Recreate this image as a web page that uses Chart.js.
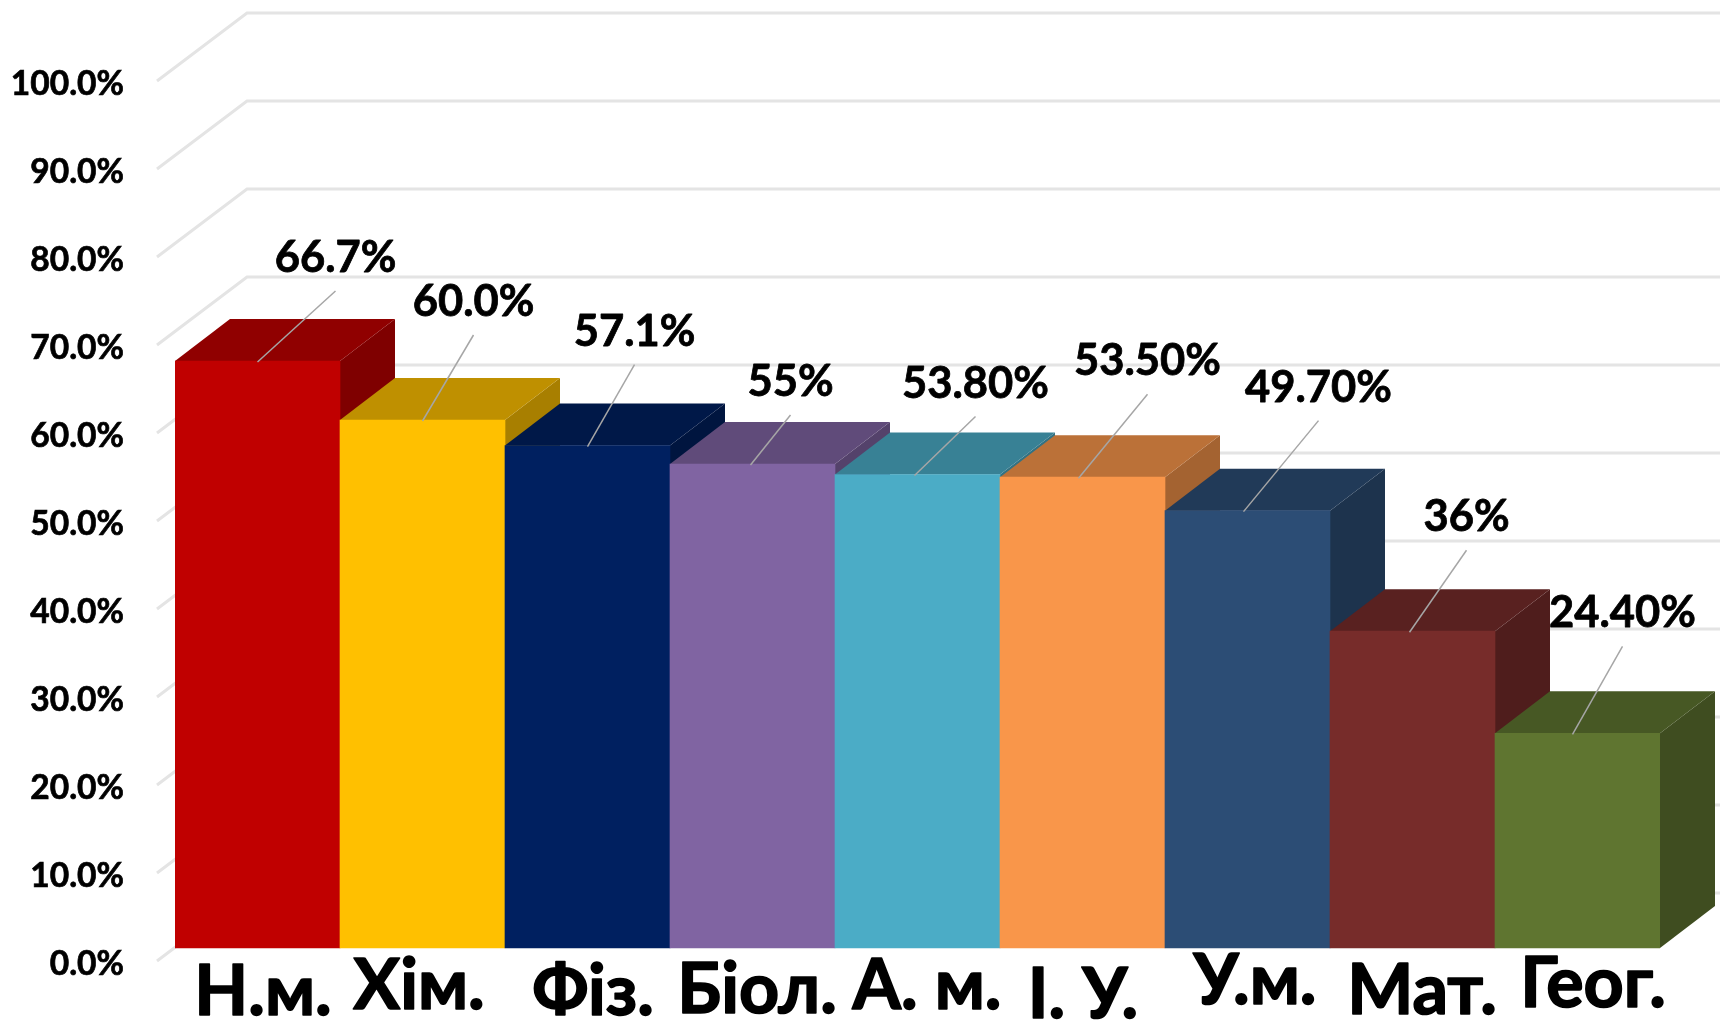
<!DOCTYPE html>
<html>
<head>
<meta charset="utf-8">
<style>
  html, body { margin: 0; padding: 0; background: #fff; }
  canvas { display: block; }
</style>
<script src="https://cdn.jsdelivr.net/npm/chart.js@4"></script>
</head>
<body>
<canvas id="grafico" width="1720" height="1021"></canvas>
<script>
const categories = ['Н.м.', 'Хім.', 'Фіз.', 'Біол.', 'А. м.', 'І. У.', 'У.м.', 'Мат.', 'Геог.'];
const values = [66.7, 60.0, 57.1, 55, 53.8, 53.5, 49.7, 36, 24.4];
const valueLabels = ['66.7%', '60.0%', '57.1%', '55%', '53.80%', '53.50%', '49.70%', '36%', '24.40%'];
const barColors = ['#C00000', '#FFC000', '#002060', '#8064A2', '#4BACC6', '#F9964A', '#2C4D75', '#772C2A', '#5F7530'];

// hand placed text in the original, offsets from the bar
const catNudge = [5.5, -3.5, 5.5, 4.5, 9.5, 0.5, 7.5, 9.5, 15.5];
const catBaseline = [1015, 1009, 1015, 1013, 1009, 1018, 1004, 1014, 1007];
const labelDx = [78, 51, 47, 38, 58, 65, 71, 54, 45];
const labelDy = [103, 118, 114, 82, 91, 116, 123, 114, 120];
const leaderFoot = [0, 0, 0, -2, -3, -4, -4, -3, -5];

const fonte = 'Lato, Carlito, "Noto Sans", sans-serif';
const barDepth = { x: 55, y: 42 };
const gridDepth = { x: 90, y: 68 };

function escurecer(hex, f) {
  const n = parseInt(hex.slice(1), 16);
  const r = Math.round((n >> 16 & 255) * f);
  const g = Math.round((n >> 8 & 255) * f);
  const b = Math.round((n & 255) * f);
  return `rgb(${r},${g},${b})`;
}

function poly(ctx, pts, cor) {
  ctx.fillStyle = cor;
  ctx.beginPath();
  pts.forEach((p, i) => i ? ctx.lineTo(p[0], p[1]) : ctx.moveTo(p[0], p[1]));
  ctx.closePath();
  ctx.fill();
}

function textoGrosso(ctx, txt, x, y, grossura) {
  ctx.lineWidth = grossura;
  ctx.strokeStyle = '#000';
  ctx.lineJoin = 'round';
  ctx.strokeText(txt, x, y);
  ctx.fillText(txt, x, y);
}

const grade3d = {
  id: 'grade3d',
  beforeDatasetsDraw(chart) {
    const { ctx, scales } = chart;
    const y = scales.y;
    const x0 = y.right - 18;
    ctx.save();
    ctx.lineWidth = 3;
    ctx.strokeStyle = '#E4E4E4';
    y.ticks.forEach(t => {
      const py = y.getPixelForValue(t.value);
      ctx.beginPath();
      ctx.moveTo(x0, py);
      ctx.lineTo(x0 + gridDepth.x, py - gridDepth.y);
      ctx.lineTo(chart.width, py - gridDepth.y);
      ctx.stroke();
    });
    ctx.restore();

    // side and top faces, the front comes from the bar itself
    const meta = chart.getDatasetMeta(0);
    ctx.save();
    meta.data.forEach((bar, i) => {
      const l = bar.x - bar.width / 2;
      const r = bar.x + bar.width / 2;
      const d = barDepth;
      poly(ctx, [[r, bar.y], [r + d.x, bar.y - d.y], [r + d.x, bar.base - d.y], [r, bar.base]], escurecer(barColors[i], 0.66));
      poly(ctx, [[l, bar.y], [l + d.x, bar.y - d.y], [r + d.x, bar.y - d.y], [r, bar.y]], escurecer(barColors[i], 0.75));
    });
    ctx.restore();
  },
  afterDatasetsDraw(chart) {
    const { ctx, scales } = chart;
    const meta = chart.getDatasetMeta(0);
    ctx.save();
    ctx.textAlign = 'center';
    meta.data.forEach((bar, i) => {
      const lx = bar.x + labelDx[i];
      const ly = bar.y - labelDy[i];
      ctx.strokeStyle = '#A6A6A6';
      ctx.lineWidth = 1.5;
      ctx.beginPath();
      ctx.moveTo(bar.x + leaderFoot[i], bar.y + 1);
      ctx.lineTo(lx, ly + 33);
      ctx.stroke();
      ctx.fillStyle = '#000';
      ctx.textBaseline = 'middle';
      ctx.font = 'bold 43.5px ' + fonte;
      textoGrosso(ctx, valueLabels[i], lx, ly, 0.8);
      ctx.textBaseline = 'alphabetic';
      ctx.font = 'bold 70px ' + fonte;
      textoGrosso(ctx, categories[i], scales.x.getPixelForValue(i) + catNudge[i], catBaseline[i], 1.6);
    });
    ctx.restore();
  }
};

new Chart(document.getElementById('grafico'), {
  type: 'bar',
  data: {
    labels: categories,
    datasets: [{
      data: values,
      backgroundColor: barColors,
      yAxisID: 'yBarras',
      categoryPercentage: 1,
      barPercentage: 1
    }]
  },
  options: {
    responsive: false,
    animation: false,
    layout: { padding: { top: 81, bottom: 60, left: 0, right: 60 } },
    plugins: { legend: { display: false }, tooltip: { enabled: false } },
    scales: {
      x: {
        afterFit: s => { s.height = 0; },
        grid: { display: false },
        border: { display: false },
        ticks: { display: false }
      },
      y: {
        min: 0,
        max: 100,
        afterFit: s => { s.width = 175; s.paddingTop = 0; s.paddingBottom = 0; },
        grid: { display: false },
        border: { display: false },
        ticks: {
          stepSize: 10,
          padding: 43,
          labelOffset: 3,
          color: '#000',
          textStrokeColor: '#000',
          textStrokeWidth: 0.7,
          font: { family: fonte, size: 33.5, weight: 'bold' },
          callback: v => v.toFixed(1) + '%'
        }
      },
      // same pixels per percent as y, the bars stand a little further back
      yBarras: {
        display: false,
        min: -1.477,
        max: 98.523,
        afterFit: s => { s.paddingTop = 0; s.paddingBottom = 0; }
      }
    }
  },
  plugins: [grade3d]
});
</script>
</body>
</html>
